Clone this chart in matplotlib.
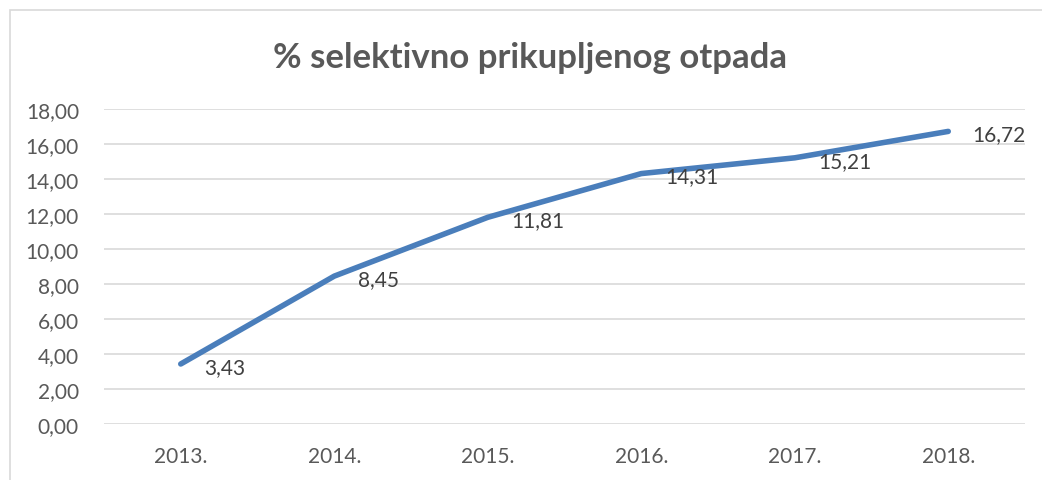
import matplotlib
matplotlib.use("Agg")
import matplotlib.pyplot as plt
from matplotlib.patches import Rectangle

years = ["2013.", "2014.", "2015.", "2016.", "2017.", "2018."]
values = [3.43, 8.45, 11.81, 14.31, 15.21, 16.72]
title = "% selektivno prikupljenog otpada"

plt.rcParams['font.family'] = ['Lato', 'DejaVu Sans']
grey = "#595959"

W, H = 1042, 481
fig = plt.figure(figsize=(W / 100, H / 100), dpi=100)
ax = fig.add_axes([104 / W, 1 - 425 / H, (1025 - 104) / W, (425 - 110) / H])

# chart border (cut off on right and bottom like the screenshot)
fig.patches.append(Rectangle((10 / W, -0.2), 1.5, 1.2 - 11 / H, transform=fig.transFigure,
                             fill=False, edgecolor="#d9d9d9", linewidth=1.2))

x = list(range(len(years)))
ax.plot(x, values, color="#4a7ebb", linewidth=4, solid_capstyle="round", zorder=3)

for xi, v in zip(x, values):
    ax.annotate(f"{v:.2f}".replace(".", ","), (xi, v), xytext=(17, -2),
                textcoords="offset points", ha="left", va="center",
                fontsize=15, color="#404040", zorder=4)

ax.set_xlim(-0.5, 5.5)
ax.set_ylim(0, 18)
ax.set_yticks(range(0, 19, 2))
ax.set_yticklabels([f"{t:.2f}".replace(".", ",") for t in range(0, 19, 2)])
ax.set_xticks(x)
ax.set_xticklabels(years)
ax.grid(axis="y", color="#d9d9d9", linewidth=1.2)
ax.set_axisbelow(True)
for s in ax.spines.values():
    s.set_visible(False)
ax.tick_params(length=0, labelsize=15, colors=grey)
ax.tick_params(axis="x", pad=16)
ax.tick_params(axis="y", pad=18)

fig.text(530 / W, 1 - 58 / H, title, ha="center", va="center",
         fontsize=25, fontweight="bold", color=grey)

fig.savefig("out.png", dpi=100)
